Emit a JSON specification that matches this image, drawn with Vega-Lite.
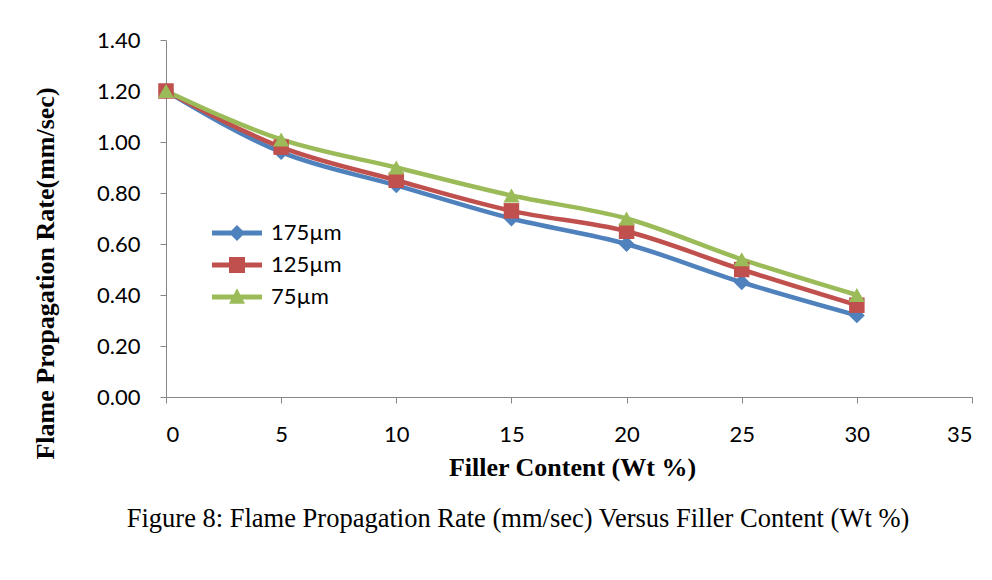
{
  "$schema": "https://vega.github.io/schema/vega-lite/v6.json",
  "autosize": {"type": "none"},
  "width": 806,
  "height": 357,
  "padding": {"left": 166, "top": 40, "right": 20, "bottom": 183},
  "background": "white",
  "title": {
    "text": "Figure 8: Flame Propagation Rate (mm/sec)  Versus Filler Content (Wt %)",
    "orient": "bottom",
    "anchor": "middle",
    "dx": -51,
    "offset": 26,
    "font": "Liberation Serif",
    "fontSize": 26.5,
    "fontWeight": "normal",
    "color": "#000000"
  },
  "config": {
    "view": {"stroke": null},
    "axis": {
      "grid": false,
      "domainColor": "#868686",
      "tickColor": "#868686",
      "tickSize": 6,
      "labelFont": "Lato",
      "labelFontSize": 22,
      "labelColor": "#000000",
      "titleFont": "Liberation Serif",
      "titleFontSize": 26,
      "titleFontWeight": "bold",
      "titleColor": "#000000"
    }
  },
  "data": {
    "values": [
      {"filler": 0, "rate": 1.20, "series": "175µm"},
      {"filler": 5, "rate": 0.96, "series": "175µm"},
      {"filler": 10, "rate": 0.83, "series": "175µm"},
      {"filler": 15, "rate": 0.70, "series": "175µm"},
      {"filler": 20, "rate": 0.60, "series": "175µm"},
      {"filler": 25, "rate": 0.45, "series": "175µm"},
      {"filler": 30, "rate": 0.32, "series": "175µm"},
      {"filler": 0, "rate": 1.20, "series": "125µm"},
      {"filler": 5, "rate": 0.98, "series": "125µm"},
      {"filler": 10, "rate": 0.85, "series": "125µm"},
      {"filler": 15, "rate": 0.73, "series": "125µm"},
      {"filler": 20, "rate": 0.65, "series": "125µm"},
      {"filler": 25, "rate": 0.50, "series": "125µm"},
      {"filler": 30, "rate": 0.36, "series": "125µm"},
      {"filler": 0, "rate": 1.20, "series": "75µm"},
      {"filler": 5, "rate": 1.01, "series": "75µm"},
      {"filler": 10, "rate": 0.90, "series": "75µm"},
      {"filler": 15, "rate": 0.79, "series": "75µm"},
      {"filler": 20, "rate": 0.70, "series": "75µm"},
      {"filler": 25, "rate": 0.54, "series": "75µm"},
      {"filler": 30, "rate": 0.40, "series": "75µm"}
    ]
  },
  "encoding": {
    "x": {
      "field": "filler",
      "type": "quantitative",
      "scale": {"domain": [0, 35], "nice": false},
      "axis": {
        "values": [0, 5, 10, 15, 20, 25, 30, 35],
        "labelPadding": 21,
        "title": "Filler Content (Wt %)",
        "titleX": 406,
        "titleY": 70,
        "titleBaseline": "middle",
        "titleAlign": "center"
      }
    },
    "y": {
      "field": "rate",
      "type": "quantitative",
      "scale": {"domain": [0, 1.4], "nice": false},
      "axis": {
        "values": [0, 0.2, 0.4, 0.6, 0.8, 1.0, 1.2, 1.4],
        "format": ".2f",
        "labelPadding": 20,
        "title": "Flame Propagation Rate(mm/sec)",
        "titleX": -121,
        "titleY": 233,
        "titleAngle": -90,
        "titleBaseline": "middle",
        "titleAlign": "center"
      }
    },
    "color": {
      "field": "series",
      "type": "nominal",
      "scale": {"domain": ["175µm", "125µm", "75µm"], "range": ["#4F81BD", "#C0504D", "#9BBB59"]},
      "legend": {
        "title": null,
        "orient": "none",
        "legendX": 77,
        "legendY": 182,
        "symbolSize": 256,
        "symbolStrokeWidth": 0,
        "symbolOpacity": 1,
        "labelFont": "Lato",
        "labelFontSize": 22,
        "labelColor": "#000000",
        "labelOffset": 6,
        "rowPadding": 10,
        "encode": {
          "symbols": {
            "update": {
              "shape": {
                "signal": "datum.value === '175µm' ? 'M-5.25,-0.3L1,-0.3L1,0.3L-5.25,0.3ZM-3.125,0L-2.125,-1L-1.125,0L-2.125,1Z' : datum.value === '125µm' ? 'M-5.25,-0.3L1,-0.3L1,0.3L-5.25,0.3ZM-3.125,-1L-1.125,-1L-1.125,1L-3.125,1Z' : 'M-5.25,-0.3L1,-0.3L1,0.3L-5.25,0.3ZM-3.125,0.85L-2.125,-1.1L-1.125,0.85Z'"
              },
              "fill": {"scale": "color", "field": "value"},
              "stroke": {"value": "transparent"},
              "opacity": {"value": 1}
            }
          }
        }
      }
    }
  },
  "layer": [
    {
      "mark": {"type": "line", "interpolate": "monotone", "strokeWidth": 4.5}
    },
    {
      "transform": [{"filter": "datum.series === '175µm'"}],
      "mark": {"type": "point", "shape": "diamond", "filled": true, "opacity": 1, "size": 250}
    },
    {
      "transform": [{"filter": "datum.series === '125µm'"}],
      "mark": {"type": "point", "shape": "square", "filled": true, "opacity": 1, "size": 240}
    },
    {
      "transform": [{"filter": "datum.series === '75µm'"}],
      "mark": {"type": "point", "shape": "triangle-up", "filled": true, "opacity": 1, "size": 260}
    }
  ]
}
